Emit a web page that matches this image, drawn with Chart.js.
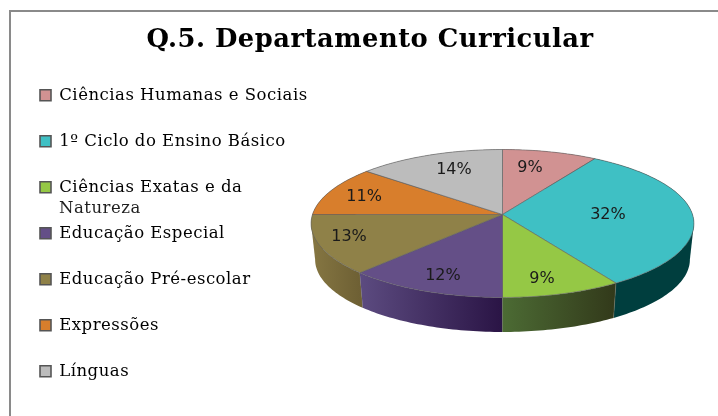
<!DOCTYPE html>
<html><head><meta charset="utf-8">
<style>
html,body{margin:0;padding:0;background:#fff;overflow:hidden}
#wrap{position:absolute;left:0;top:0;width:718px;height:416px}
#frame{position:absolute;left:9px;top:10px;right:-10px;bottom:-10px;border:2px solid #8a8a8a;pointer-events:none}
canvas{filter:blur(0.35px)}
</style>
<script src="https://cdn.jsdelivr.net/npm/chart.js@4"></script>
</head><body>
<div id="wrap"><canvas id="c" width="718" height="416"></canvas><div id="frame"></div></div>
<script>
const titleText = "Q.5. Departamento Curricular";
const categories = ["Ciências Humanas e Sociais","1º Ciclo do Ensino Básico",["Ciências Exatas e da","Natureza"],"Educação Especial","Educação Pré-escolar","Expressões","Línguas"];
const values = [9,32,9,12,13,11,14];
const topColors = ["#d19292","#3fc0c4","#95c845","#644f87","#8f8148","#d87e2c","#bcbcbc"];
const sideLight = ["#8a5a5a","#004545","#4c6b34","#5c4b80","#857642","#8a5020","#777777"];
const sideDark  = ["#8a5a5a","#003e3e","#32391a","#2a1445","#6e6034","#8a5020","#777777"];
const labelRadii = [0.71,0.555,0.82,0.816,0.834,0.79,0.715];
const labelShiftDeg = [-3.4,0,3,-1.2,2.4,-1.6,2.5];

const legendFont = '16.5px "DejaVu Serif"';
const view = {cx:502.5, cy:214.5, w:190, h:72.9, k:0.1216};
const base = {cx:502.5, cy:250.7, w:186, h:71.4, k:0.1216};
function project(p,a,r){const u=r*Math.cos(a),v=r*Math.sin(a),d=1-p.k*v;return [p.cx+p.w*u/d,p.cy+p.h*v/d];}
function rim(ctx,p,a0,a1,rev){
  const n=Math.max(4,Math.ceil(Math.abs(a1-a0)/0.02));
  for(let i=0;i<=n;i++){const t=rev?1-i/n:i/n;const q=project(p,a0+(a1-a0)*t,1);ctx.lineTo(q[0],q[1]);}
}
const extremes=[Math.asin(view.k),Math.PI-Math.asin(view.k)];
const pie3d={id:'pie3d',
  afterLayout(chart){
    const l=chart.legend;
    l.left=10.5; l.top=57.5; l.bottom=460; l.right=310; l.width=300; l.height=403;
  },
  beforeDraw(chart){ chart.ctx.letterSpacing='0.5px'; },
  beforeDatasetDraw(chart,args){
    const ctx=chart.ctx, arcs=chart.getDatasetMeta(args.index).data;
    ctx.save();
    ctx.letterSpacing='0px';
    const order=arcs.map((a,i)=>i).sort((a,b)=>Math.sin((arcs[a].startAngle+arcs[a].endAngle)/2)-Math.sin((arcs[b].startAngle+arcs[b].endAngle)/2));
    order.forEach(i=>{
      const a=arcs[i];
      const p0=project(view,a.startAngle,1),p1=project(view,a.endAngle,1);
      const x0=Math.min(p0[0],p1[0]),x1=Math.max(p0[0],p1[0]);
      const g=ctx.createLinearGradient(x0,0,x1,0);
      g.addColorStop(0,sideLight[i]); g.addColorStop(1,sideDark[i]);
      ctx.fillStyle=g;
      ctx.beginPath(); rim(ctx,view,a.startAngle,a.endAngle,false); rim(ctx,base,a.startAngle,a.endAngle,true); ctx.closePath(); ctx.fill();
      // silhouette tangent between the upper and lower rim
      extremes.forEach(e=>{
        if(e>=a.startAngle&&e<=a.endAngle){
          const T=project(view,e,1),B=project(base,e,1),side=T[0]>view.cx?-1:1;
          ctx.beginPath();ctx.moveTo(T[0],T[1]);ctx.lineTo(B[0],B[1]);ctx.lineTo(T[0]+side*18,(T[1]+B[1])/2);ctx.closePath();ctx.fill();
        }
      });
      const e0=project(base,a.startAngle,1);
      ctx.beginPath();ctx.moveTo(p0[0],p0[1]);ctx.lineTo(e0[0],e0[1]);
      ctx.strokeStyle='rgba(125,125,110,0.6)';ctx.lineWidth=0.7;ctx.stroke();
    });
    arcs.forEach((a,i)=>{
      ctx.beginPath(); ctx.moveTo(view.cx,view.cy); rim(ctx,view,a.startAngle,a.endAngle,false); ctx.closePath();
      ctx.fillStyle=topColors[i]; ctx.fill();
      ctx.strokeStyle='rgba(95,95,95,0.75)'; ctx.lineWidth=0.8; ctx.stroke();
    });
    ctx.fillStyle='#1a1a1a'; ctx.font='16px "DejaVu Sans"'; ctx.textAlign='center'; ctx.textBaseline='middle';
    arcs.forEach((a,i)=>{
      const q=project(view,(a.startAngle+a.endAngle)/2+labelShiftDeg[i]*Math.PI/180,labelRadii[i]);
      ctx.fillText(values[i]+'%',q[0],q[1]);
    });
    ctx.restore();
    return false;
  },
  afterDraw(chart){
    const ctx=chart.ctx, boxes=chart.legend.legendHitBoxes;
    ctx.save(); ctx.font=legendFont; ctx.fillStyle='#1f1f1f'; ctx.textAlign='left'; ctx.textBaseline='middle'; ctx.letterSpacing='0.5px';
    categories.forEach((c,i)=>{
      if(Array.isArray(c)) c.slice(1).forEach((t,j)=>{
        ctx.fillText(t,boxes[i].left+19,boxes[i].top+boxes[i].height/2+21*(j+1));
      });
    });
    ctx.restore();
  }
};
new Chart(document.getElementById('c'),{
  type:'pie',
  data:{labels:categories,datasets:[{data:values,backgroundColor:topColors,borderWidth:0}]},
  plugins:[pie3d],
  options:{
    responsive:false,animation:false,
    layout:{padding:{left:22,top:0,right:0,bottom:0}},
    plugins:{
      tooltip:{enabled:false},
      title:{display:true,text:titleText,color:'#000',font:{family:'"DejaVu Serif"',size:25.8,weight:'bold'},padding:{top:25,bottom:10}},
      legend:{position:'left',align:'start',
        labels:{boxWidth:11,boxHeight:11,padding:29.5,color:'#1f1f1f',
          font:{family:'"DejaVu Serif"',size:16.5},
          generateLabels(chart){
            return chart.data.labels.map((t,i)=>({text:Array.isArray(t)?t[0]:t,fillStyle:topColors[i],strokeStyle:'#555',lineWidth:1.6,index:i,hidden:false}));
          }}}
    }
  }
});
</script>
</body></html>
